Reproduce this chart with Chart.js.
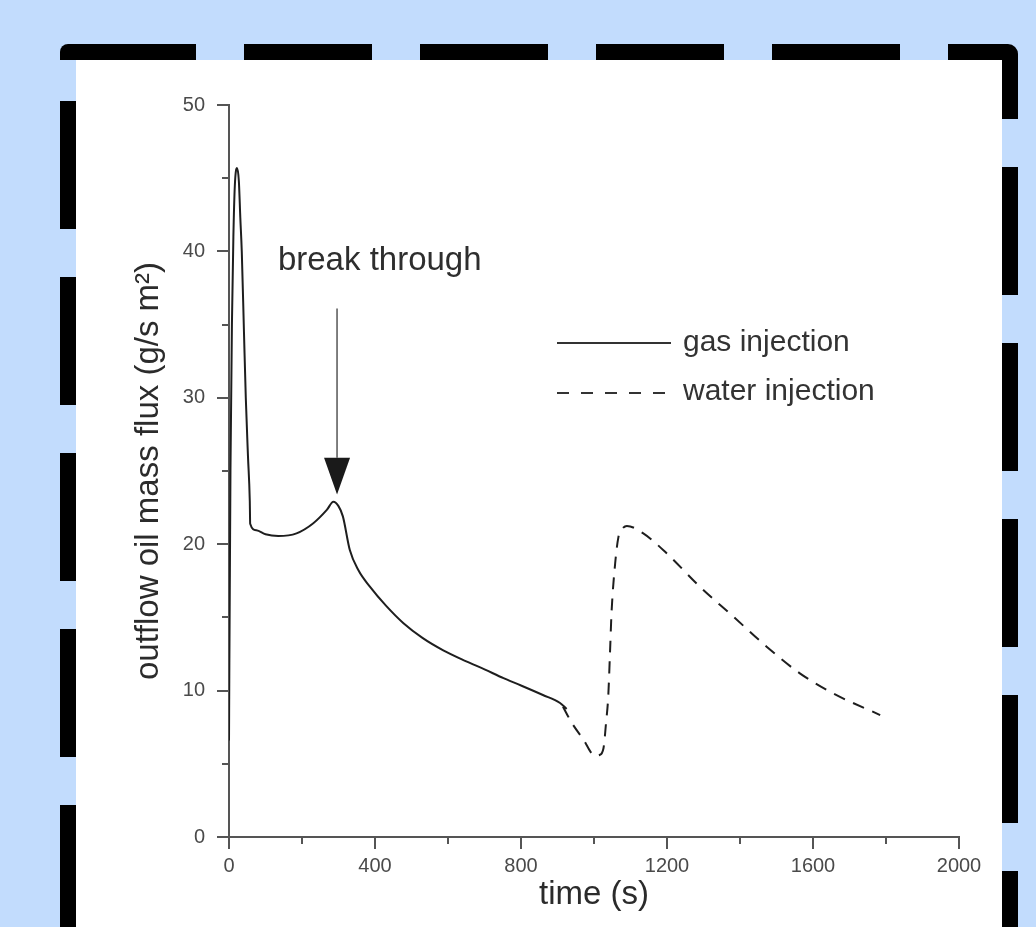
<!DOCTYPE html>
<html>
<head>
<meta charset="utf-8">
<script src="https://cdn.jsdelivr.net/npm/chart.js@4.4.1/dist/chart.umd.min.js"></script>
<style>
  html, body { margin: 0; padding: 0; }
  body { width: 1036px; height: 927px; background: #c2dcfd; position: relative; overflow: hidden; }
  .panel { position: absolute; left: 76px; top: 60px; width: 926px; height: 900px; background: #fff; }
  #frame, #chart { position: absolute; left: 0; top: 0; }
</style>
</head>
<body>
<div class="panel"></div>
<svg id="frame" width="1036" height="927">
  <g stroke="#000" stroke-width="16" fill="none">
    <line x1="68" y1="52" x2="1002" y2="52" stroke-dasharray="128 48"/>
    <line x1="1010" y1="60" x2="1010" y2="927" stroke-dasharray="128 48" stroke-dashoffset="69"/>
    <line x1="68" y1="101" x2="68" y2="927" stroke-dasharray="128 48"/>
  </g>
  <path d="M60,60 L60,52 A8,8 0 0 1 68,44 L76,44 L76,60 Z" fill="#000"/>
  <path d="M1002,44 L1008,44 A10,10 0 0 1 1018,54 L1018,60 L1002,60 Z" fill="#000"/>
</svg>
<canvas id="chart" width="1036" height="927"></canvas>
<script>
// values: time (s) / outflow oil mass flux (g/s m2)
const gasTime = [0, 1, 4, 8, 12, 16, 22, 27, 31, 35, 41, 46, 52, 57, 58, 75, 100, 135, 185, 231, 268, 286, 300, 312, 331, 355, 386, 430, 478, 530, 587, 650, 700, 752, 800, 860, 907, 925]
const gasFlux = [6.6, 12, 25, 35, 41, 44.5, 45.7, 44.8, 42.3, 40, 34.5, 30, 26, 22.9, 21.4, 20.95, 20.68, 20.56, 20.74, 21.43, 22.34, 22.9, 22.6, 21.9, 19.6, 18.2, 17.1, 15.8, 14.6, 13.6, 12.75, 12.0, 11.45, 10.85, 10.35, 9.7, 9.15, 8.75]

const waterTime = [915, 939, 970, 1003, 1015, 1026, 1033, 1039, 1044, 1048, 1058, 1067, 1076, 1090, 1135, 1199, 1290, 1382, 1473, 1564, 1656, 1784]
const waterFlux = [8.9, 7.8, 6.7, 5.55, 5.6, 6.06, 7.8, 9.6, 12.7, 15.3, 18.7, 20.5, 21.0, 21.25, 20.74, 19.38, 17.1, 15.05, 13.0, 11.18, 9.8, 8.33]

const xTicks = [0, 400, 800, 1200, 1600, 2000]
const yTicks = [0, 10, 20, 30, 40, 50]
const xMinor = [200, 600, 1000, 1400, 1800]
const yMinor = [5, 15, 25, 35, 45]

const seriesNames = ['gas injection', 'water injection']

const font = '"Liberation Sans", Arial, sans-serif'
const axisColor = '#555'
const lineColor = '#1e1e1e'

Chart.defaults.font.family = font

const toPoints = (xs, ys) => xs.map((t, i) => ({x: t, y: ys[i]}))

// minor ticks, arrow, note and legend
const extras = {
    id: 'extras',
    afterDraw: (chart) => {
        const ctx = chart.ctx
        const x = chart.scales.x
        const y = chart.scales.y
        ctx.save()

        ctx.strokeStyle = axisColor
        ctx.lineWidth = 2
        ctx.beginPath()
        yMinor.forEach(v => {
            const py = Math.round(y.getPixelForValue(v))
            ctx.moveTo(x.left - 7, py)
            ctx.lineTo(x.left, py)
        })
        xMinor.forEach(v => {
            const px = Math.round(x.getPixelForValue(v))
            ctx.moveTo(px, y.bottom)
            ctx.lineTo(px, y.bottom + 7)
        })
        ctx.stroke()

        // break through arrow
        const ax = x.getPixelForValue(296)
        ctx.strokeStyle = '#555'
        ctx.lineWidth = 1.5
        ctx.beginPath()
        ctx.moveTo(ax, y.getPixelForValue(36.1))
        ctx.lineTo(ax, y.getPixelForValue(25.9))
        ctx.stroke()
        ctx.fillStyle = '#1a1a1a'
        ctx.beginPath()
        ctx.moveTo(ax - 13, y.getPixelForValue(25.9))
        ctx.lineTo(ax + 13, y.getPixelForValue(25.9))
        ctx.lineTo(ax, y.getPixelForValue(23.4))
        ctx.closePath()
        ctx.fill()

        ctx.fillStyle = '#2e2e2e'
        ctx.font = '33px ' + font
        ctx.textBaseline = 'alphabetic'
        ctx.fillText('break through', x.getPixelForValue(134), y.getPixelForValue(38.7))

        // legend
        ctx.strokeStyle = '#333'
        ctx.lineWidth = 2
        ctx.beginPath()
        ctx.moveTo(557, 343)
        ctx.lineTo(671, 343)
        ctx.stroke()
        ctx.setLineDash([12, 12])
        ctx.beginPath()
        ctx.moveTo(557, 393)
        ctx.lineTo(666, 393)
        ctx.stroke()
        ctx.setLineDash([])

        ctx.font = '30px ' + font
        ctx.fillStyle = '#333'
        ctx.fillText(seriesNames[0], 683, 351)
        ctx.fillText(seriesNames[1], 683, 400)
        ctx.restore()
    }
}

const chart = new Chart(document.getElementById('chart'), {
    type: 'line',
    data: {
        datasets: [{
            label: seriesNames[0],
            data: toPoints(gasTime, gasFlux),
            borderColor: lineColor,
            borderWidth: 2,
            pointRadius: 0,
            cubicInterpolationMode: 'monotone'
        }, {
            label: seriesNames[1],
            data: toPoints(waterTime, waterFlux),
            borderColor: lineColor,
            borderWidth: 2,
            borderDash: [12, 9],
            pointRadius: 0,
            cubicInterpolationMode: 'monotone'
        }]
    },
    options: {
        responsive: false,
        animation: false,
        devicePixelRatio: 1,
        layout: {
            padding: {left: 110, top: 105, right: 77, bottom: 0}
        },
        plugins: {
            legend: {display: false},
            tooltip: {enabled: false}
        },
        scales: {
            x: {
                type: 'linear',
                min: 0,
                max: 2000,
                afterBuildTicks: (s) => { s.ticks = xTicks.map(v => ({value: v})) },
                afterFit: (s) => { s.height = 90 },
                border: {color: axisColor, width: 2},
                grid: {drawOnChartArea: false, tickLength: 12, color: axisColor, lineWidth: 2},
                ticks: {color: '#4a4a4a', font: {size: 20}, padding: 5, maxRotation: 0, callback: (v) => String(v)},
                title: {
                    display: true,
                    text: 'time (s)',
                    color: '#2b2b2b',
                    font: {size: 33},
                    padding: {top: 0, bottom: 12}
                }
            },
            y: {
                min: 0,
                max: 50,
                afterBuildTicks: (s) => { s.ticks = yTicks.map(v => ({value: v})) },
                afterFit: (s) => { s.width = 119 },
                border: {color: axisColor, width: 2},
                grid: {drawOnChartArea: false, tickLength: 12, color: axisColor, lineWidth: 2},
                ticks: {color: '#4a4a4a', font: {size: 20}, padding: 12, callback: (v) => String(v)},
                title: {
                    display: true,
                    text: 'outflow oil mass flux (g/s m²)',
                    color: '#2b2b2b',
                    font: {size: 33},
                    padding: {top: 19, bottom: 0}
                }
            }
        }
    },
    plugins: [extras]
})
</script>
</body>
</html>
